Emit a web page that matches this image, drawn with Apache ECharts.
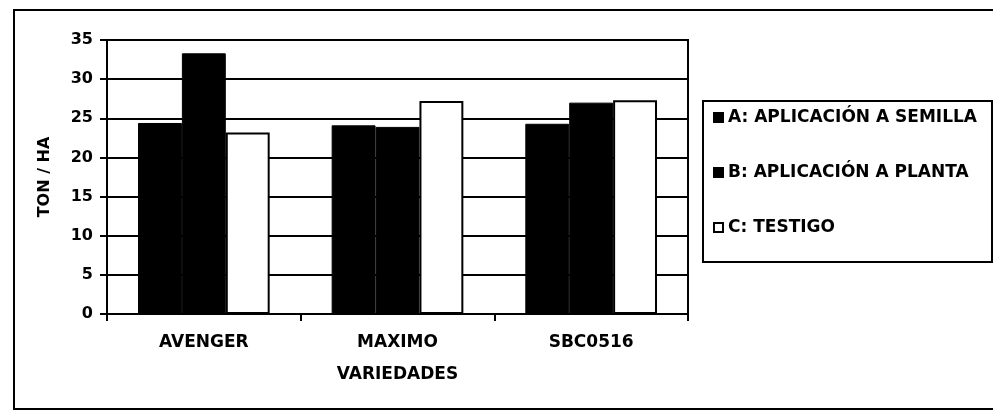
<!DOCTYPE html>
<html>
<head>
<meta charset="utf-8">
<script src="https://cdn.jsdelivr.net/npm/echarts@6/dist/echarts.min.js"></script>
<style>
  html, body { margin: 0; padding: 0; background: #fff; }
  #chart { width: 993px; height: 415px; }
</style>
</head>
<body>
<div id="chart"></div>
<script>
// variedades
const categories = ['AVENGER', 'MAXIMO', 'SBC0516']
// TON / HA
const semilla = [24.4, 24.1, 24.3]
const planta = [33.3, 23.9, 27.0]
const testigo = [23.2, 27.2, 27.3]
const seriesNames = [
  'A: APLICACIÓN A SEMILLA',
  'B: APLICACIÓN A PLANTA',
  'C: TESTIGO',
]

const font = 'DejaVu Sans, Arial, sans-serif'
const myChart = echarts.init(document.getElementById('chart'))

myChart.setOption({
  animation: false,
  backgroundColor: '#fff',
  textStyle: { fontFamily: font, color: '#000', fontWeight: 'bold' },
  grid: {
    left: 107,
    right: 305,
    top: 40,
    bottom: 101,
    show: true,
    borderColor: '#000',
    borderWidth: 2,
  },
  // marco exterior y caja de leyenda
  graphic: [
    {
      type: 'rect',
      shape: { x: 14, y: 10, width: 990, height: 399 },
      style: { fill: 'none', stroke: '#000', lineWidth: 2 },
      silent: true,
    },
    {
      type: 'rect',
      shape: { x: 703, y: 101, width: 289, height: 161 },
      style: { fill: 'none', stroke: '#000', lineWidth: 2 },
      silent: true,
    },
  ],
  legend: {
    orient: 'vertical',
    left: 708,
    top: 104,
    itemWidth: 9,
    itemHeight: 9,
    itemGap: 38,
    icon: 'rect',
    textStyle: { fontSize: 17, fontFamily: font, fontWeight: 'bold', color: '#000' },
    data: seriesNames,
  },
  xAxis: {
    type: 'category',
    data: categories,
    name: 'VARIEDADES',
    nameLocation: 'middle',
    nameGap: 52,
    nameTextStyle: { fontSize: 17, fontWeight: 'bold', color: '#000' },
    axisLine: { lineStyle: { color: '#000', width: 2 } },
    axisTick: { show: true, length: 7, lineStyle: { color: '#000', width: 2 } },
    axisLabel: { margin: 20, fontSize: 17, fontWeight: 'bold', color: '#000' },
  },
  yAxis: {
    type: 'value',
    min: 0,
    max: 35,
    interval: 5,
    name: 'TON / HA',
    nameLocation: 'middle',
    nameRotate: 90,
    nameGap: 54,
    nameTextStyle: { fontSize: 16, fontWeight: 'bold', color: '#000' },
    axisLine: { show: true, lineStyle: { color: '#000', width: 2 } },
    axisTick: { show: true, length: 7, lineStyle: { color: '#000', width: 2 } },
    axisLabel: { margin: 14, fontSize: 16, fontWeight: 'bold', color: '#000' },
    splitLine: { lineStyle: { color: '#000', width: 2 } },
  },
  series: [
    {
      name: seriesNames[0],
      type: 'bar',
      data: semilla,
      barGap: '0%',
      barCategoryGap: '32%',
      itemStyle: { color: '#000', borderColor: '#000', borderWidth: 1 },
    },
    {
      name: seriesNames[1],
      type: 'bar',
      data: planta,
      itemStyle: { color: '#000', borderColor: '#000', borderWidth: 1 },
    },
    {
      name: seriesNames[2],
      type: 'bar',
      data: testigo,
      itemStyle: { color: '#fff', borderColor: '#000', borderWidth: 2 },
    },
  ],
})
</script>
</body>
</html>
